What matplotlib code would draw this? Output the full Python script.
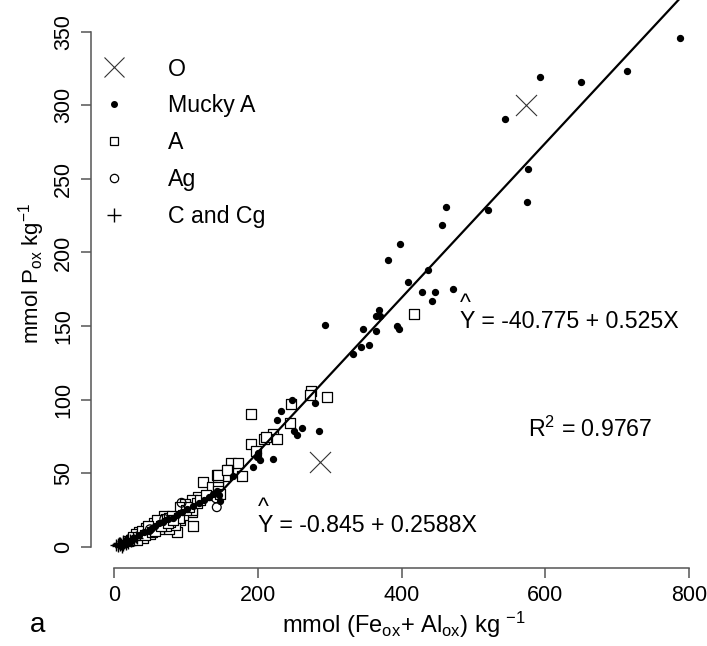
import numpy as np
import matplotlib
matplotlib.use("Agg")
import matplotlib.pyplot as plt
from matplotlib.lines import Line2D

plt.rcParams['font.family'] = ['Liberation Sans', 'DejaVu Sans']
plt.rcParams['mathtext.default'] = 'regular'

# O horizon
o_x = [573, 287]
o_y = [300, 58]

# Mucky A
mucky_x = [788, 714, 650, 593, 544, 576, 575, 520, 462, 456, 398, 381, 437, 409, 472,
           428, 447, 442, 369, 370, 365, 294, 347, 364, 394, 396, 344, 355, 333, 279,
           247, 233, 227, 262, 250, 254, 285, 200, 199, 203, 221, 194, 166, 146, 148,
           143, 25, 35, 42, 48, 53, 57, 63, 68, 75, 82, 88, 95, 102, 110, 118, 125, 132, 138]
mucky_y = [346, 323, 316, 319, 291, 257, 234, 229, 231, 219, 206, 195, 188, 180, 175,
           173, 173, 167, 161, 157, 157, 151, 148, 147, 150, 148, 136, 137, 131, 98,
           100, 92, 86, 81, 79, 76, 79, 64, 61, 59, 60, 54, 48, 35, 31,
           38, 5, 8, 10, 11, 13, 14, 16, 17, 19, 20, 22, 24, 26, 28, 30, 32, 34, 36]

# A
a_x = [418, 274, 273, 296, 246, 190, 245, 221, 208, 211, 227, 190, 197, 163, 173,
       159, 178, 143, 154, 144, 124, 136, 144, 144, 147, 117, 108, 99, 94, 109,
       110, 87, 76, 83, 92, 69, 145, 157, 92, 108, 96, 85,
       20, 24, 27, 30, 33, 36, 38, 41, 44, 46, 49, 52, 55, 58, 61, 64, 67, 70,
       73, 77, 80, 35, 45, 55, 62, 72, 50, 40, 30, 60, 78, 90, 100, 104, 115, 120, 128,
       26, 32, 39, 43, 47, 53, 57, 66, 75, 82]
a_y = [158, 106, 103, 102, 97, 90, 84, 77, 73, 75, 73, 70, 65, 57, 57,
       52, 48, 49, 48, 44, 44, 41, 41, 38, 36, 34, 32, 29, 25, 24,
       14, 10, 12, 16, 18, 21, 49, 52, 27, 25, 22, 15,
       4, 5, 6, 6, 7, 8, 9, 9, 10, 11, 12, 12, 13, 14, 15, 16, 17, 18,
       19, 20, 21, 10, 13, 16, 12, 14, 9, 6, 9, 18, 17, 20, 25, 27, 30, 32, 35,
       7, 5, 11, 8, 14, 10, 11, 14, 16, 18]

# Ag
ag_x = [94, 143, 142, 50, 70]
ag_y = [30, 27, 33, 12, 19]

# C and Cg
c_x = [3, 5, 6, 8, 9, 10, 12, 12, 14, 15, 17, 18, 20, 22, 24, 26, 28, 30, 32, 11, 7]
c_y = [1, 2, 0.5, 1.5, 3, 2, 1, 4, 2.5, 3.5, 2, 4.5, 3, 5, 4, 6, 5, 7, 6, 0.3, 3]

# fitted segments (from the printed equations)
low_x = np.array([3, 150])
low_y = -0.845 + 0.2588 * low_x
high_x = np.array([150, 832])
high_y = -40.775 + 0.525 * high_x

fs = 16.7

fig = plt.figure(figsize=(7.07, 6.46), dpi=100)
ax = fig.add_axes([91/707, 78/646, 621/707, 568/646])

ax.plot(np.concatenate([low_x, high_x[1:]]), np.concatenate([low_y, high_y[1:]]),
        color='black', lw=1.6, zorder=3)

ax.scatter(a_x, a_y, marker='s', s=55, facecolors='white', edgecolors='black', linewidths=0.9, zorder=2)
ax.scatter(ag_x, ag_y, marker='o', s=40, facecolors='none', edgecolors='black', linewidths=0.9, zorder=2)
ax.scatter(mucky_x, mucky_y, marker='o', s=18, color='black', zorder=4)
ax.scatter(c_x, c_y, marker='+', s=70, color='black', linewidths=1.0, zorder=4)
ax.scatter(o_x, o_y, marker='x', s=230, color='#333333', linewidths=0.8, zorder=4)

ax.set_xlim(-32, 832)
ax.set_ylim(-14.3, 371.5)
for s in ['top', 'right']:
    ax.spines[s].set_visible(False)
ax.spines['left'].set_bounds(0, 350)
ax.spines['bottom'].set_bounds(0, 800)
for s in ['left', 'bottom']:
    ax.spines[s].set_color('#555555')
    ax.spines[s].set_linewidth(1.1)
ax.set_xticks([0, 200, 400, 600, 800])
ax.set_yticks([0, 50, 100, 150, 200, 250, 300, 350])
ax.tick_params(direction='out', length=7, width=1.1, color='#555555', labelsize=15.5, pad=5)
plt.setp(ax.get_yticklabels(), rotation=90, va='center')

# regression equations; the hat is a caret on its own line just above the Y
ax.text(481, 149, '^\nY = -40.775 + 0.525X', fontsize=fs, va='baseline', linespacing=0.72)
ax.text(200, 10, '^\nY = -0.845 + 0.2588X', fontsize=fs, va='baseline', linespacing=0.72)
ax.text(576, 75, r'R$^2$ = 0.9767', fontsize=fs, va='baseline')

handles = [
    Line2D([], [], ls='none', marker='x', ms=14, mew=0.8, color='#333333'),
    Line2D([], [], ls='none', marker='o', ms=4, color='black'),
    Line2D([], [], ls='none', marker='s', ms=6, mfc='white', mec='black', mew=0.9),
    Line2D([], [], ls='none', marker='o', ms=6, mfc='none', mec='black', mew=0.9),
    Line2D([], [], ls='none', marker='+', ms=10, mew=1.0, color='black'),
]
ax.legend(handles, ['O', 'Mucky A', 'A', 'Ag', 'C and Cg'], loc='upper left',
          bbox_to_anchor=(0.0, 0.915), frameon=False, fontsize=fs,
          labelspacing=0.6, handlelength=1.2, handletextpad=1.7, borderaxespad=0)

fig.text(32/707, 1 - 273/646, r'mmol P$_{ox}$ kg$^{-1}$', rotation=90, fontsize=16,
         ha='center', va='center')
fig.text(404/707, 1 - 625/646, r'mmol (Fe$_{ox}$+ Al$_{ox}$) kg $^{-1}$', fontsize=17,
         ha='center', va='center')
fig.text(38/707, 1 - 625/646, 'a', fontsize=20, ha='center', va='center')

fig.savefig('out.png', dpi=100)
